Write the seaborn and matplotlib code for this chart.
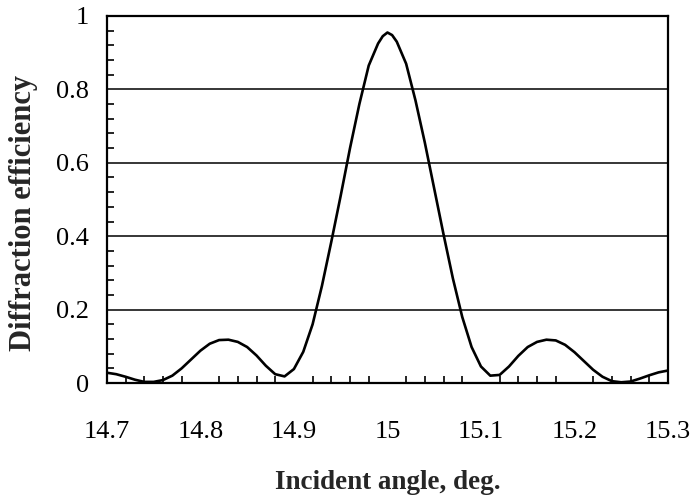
import matplotlib
matplotlib.use("Agg")
import matplotlib.pyplot as plt
import seaborn as sns
import pandas as pd
from matplotlib.ticker import MultipleLocator, FuncFormatter

# incident angle (deg) and diffraction efficiency
angle = [14.70, 14.71, 14.72, 14.73, 14.74, 14.75, 14.76, 14.77, 14.78, 14.79,
         14.80, 14.81, 14.82, 14.83, 14.84, 14.85, 14.86, 14.87, 14.88, 14.89,
         14.90, 14.91, 14.92, 14.93, 14.94, 14.95, 14.96, 14.97, 14.98, 14.99,
         14.995, 15.00, 15.005,
         15.01, 15.02, 15.03, 15.04, 15.05, 15.06, 15.07, 15.08, 15.09, 15.10,
         15.11, 15.12, 15.13, 15.14, 15.15, 15.16, 15.17, 15.18, 15.19, 15.20,
         15.21, 15.22, 15.23, 15.24, 15.25, 15.26, 15.27, 15.28, 15.29, 15.30]
efficiency = [0.028, 0.024, 0.017, 0.009, 0.003, 0.003, 0.008, 0.020, 0.040, 0.064,
              0.088, 0.107, 0.117, 0.118, 0.112, 0.098, 0.075, 0.047, 0.024, 0.018,
              0.038, 0.085, 0.160, 0.265, 0.385, 0.510, 0.640, 0.760, 0.865, 0.925,
              0.945, 0.955, 0.948,
              0.930, 0.870, 0.770, 0.655, 0.530, 0.405, 0.285, 0.180, 0.098, 0.045,
              0.020, 0.022, 0.045, 0.074, 0.098, 0.112, 0.118, 0.116, 0.104, 0.084,
              0.060, 0.036, 0.017, 0.005, 0.002, 0.004, 0.012, 0.021, 0.029, 0.034]

y_ticks = [0, 0.2, 0.4, 0.6, 0.8, 1.0]
x_ticks = [14.7, 14.8, 14.9, 15.0, 15.1, 15.2, 15.3]

df = pd.DataFrame({"angle": angle, "efficiency": efficiency})

sns.set_style("white")
plt.rcParams["font.family"] = ["Liberation Serif", "DejaVu Serif"]

fig, ax = plt.subplots(figsize=(6.94, 5.0), dpi=100)
fig.subplots_adjust(left=0.154, right=0.9625, top=0.968, bottom=0.234)

sns.lineplot(data=df, x="angle", y="efficiency", color="black", lw=1.9, ax=ax)

ax.set_xlim(14.7, 15.3)
ax.set_ylim(0, 1)
ax.set_xticks(x_ticks)
ax.set_yticks(y_ticks)
ax.xaxis.set_minor_locator(MultipleLocator(0.02))
ax.yaxis.set_minor_locator(MultipleLocator(0.04))
fmt = FuncFormatter(lambda v, p: "%g" % round(v, 2))
ax.xaxis.set_major_formatter(fmt)
ax.yaxis.set_major_formatter(fmt)

ax.yaxis.grid(True, color="black", lw=1.1)
ax.xaxis.grid(False)
for s in ax.spines.values():
    s.set_color("black")
    s.set_linewidth(1.6)

ax.tick_params(which="major", direction="out", length=7, width=1.5,
               labelsize=19, colors="black")
ax.tick_params(axis="x", which="major", pad=20)
ax.tick_params(axis="y", which="major", pad=6)
ax.tick_params(which="minor", direction="in", length=5, width=1.2,
               colors="black")
ax.tick_params(axis="x", which="minor", bottom=True)
ax.tick_params(axis="y", which="minor", left=True)

ax.set_xlabel("Incident angle, deg.", fontsize=19.5, fontweight="bold", labelpad=20)
ax.set_ylabel("Diffraction efficiency", fontsize=22, fontweight="bold")
ax.yaxis.set_label_coords(-0.122, 0.463)

plt.savefig("out.png", dpi=100)
plt.close()
